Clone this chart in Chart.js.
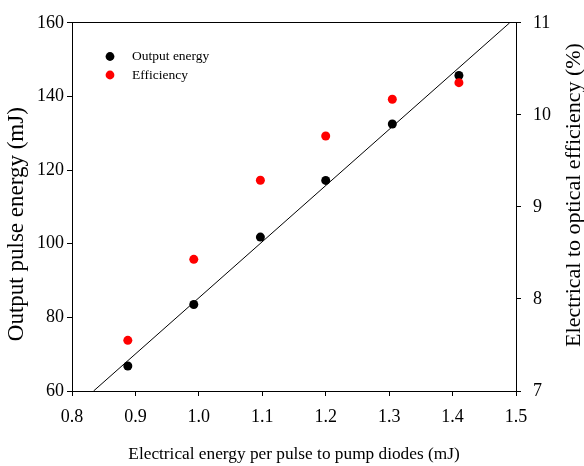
<!DOCTYPE html>
<html>
<head>
<meta charset="utf-8">
<script src="https://cdn.jsdelivr.net/npm/chart.js@4/dist/chart.umd.min.js"></script>
<style>
  html, body { margin: 0; padding: 0; background: #fff; }
  #chart { display: block; }
</style>
</head>
<body>
<canvas id="chart" width="584" height="466"></canvas>
<script>
// Electrical energy per pulse (mJ)
const pumpEnergy = [0.888, 0.992, 1.097, 1.2, 1.305, 1.41];
// Output pulse energy (mJ)
const outputEnergy = [66.8, 83.5, 101.8, 117.2, 132.5, 145.7];
// Electrical to optical efficiency (%)
const efficiency = [7.55, 8.43, 9.29, 9.77, 10.17, 10.35];
// Fitted line endpoints
const fitX = [0.834, 1.49];
const fitY = [60, 160];

const xTicks = [0.8, 0.9, 1.0, 1.1, 1.2, 1.3, 1.4, 1.5];
const leftTicks = [60, 80, 100, 120, 140, 160];
const rightTicks = [7, 8, 9, 10, 11];

const rightTitle = 'Electrical to optical efficiency (%)';

const serif = "'Liberation Serif', 'Times New Roman', serif";

const toPoints = (xs, ys) => xs.map((x, i) => ({ x: x, y: ys[i] }));

// legend inside the plot (top left) + right axis title read bottom-to-top
const extras = {
    id: 'extras',
    afterDatasetsDraw(chart) {
        const ctx = chart.ctx;
        const items = chart.data.datasets
            .filter((d) => d.legendPos !== undefined)
            .sort((a, b) => a.legendPos - b.legendPos);
        ctx.save();
        ctx.font = '13.5px ' + serif;
        ctx.textBaseline = 'middle';
        items.forEach((d, i) => {
            const y = 56.5 + i * 18.5;
            ctx.fillStyle = d.backgroundColor;
            ctx.beginPath();
            ctx.arc(110, y, 4.4, 0, Math.PI * 2);
            ctx.fill();
            ctx.fillStyle = '#000';
            ctx.fillText(d.label, 132, y);
        });
        ctx.restore();

        ctx.save();
        ctx.translate(574, 195);
        ctx.rotate(-Math.PI / 2);
        ctx.font = '22px ' + serif;
        ctx.fillStyle = '#000';
        ctx.textAlign = 'center';
        ctx.textBaseline = 'middle';
        ctx.fillText(rightTitle, 0, 0);
        ctx.restore();
    },
};

const tickFont = { family: serif, size: 18 };
const axisGrid = { drawOnChartArea: false, drawTicks: true, tickLength: 5, color: '#000', lineWidth: 1 };
const axisBorder = { display: true, color: '#000', width: 1 };

new Chart(document.getElementById('chart').getContext('2d'), {
    type: 'scatter',
    data: {
        datasets: [
            {
                label: 'Efficiency',
                data: toPoints(pumpEnergy, efficiency),
                yAxisID: 'y1',
                backgroundColor: '#ff0000',
                borderColor: '#ff0000',
                pointRadius: 4.5,
                pointBorderWidth: 0,
                order: 0,
                legendPos: 1,
            },
            {
                label: 'Output energy',
                data: toPoints(pumpEnergy, outputEnergy),
                yAxisID: 'y',
                backgroundColor: '#000000',
                borderColor: '#000000',
                pointRadius: 4.5,
                pointBorderWidth: 0,
                order: 1,
                legendPos: 0,
            },
            {
                label: 'Fit',
                data: toPoints(fitX, fitY),
                yAxisID: 'y',
                showLine: true,
                borderColor: '#000',
                borderWidth: 1,
                pointRadius: 0,
                order: 2,
            },
        ],
    },
    options: {
        responsive: false,
        animation: false,
        layout: { padding: 0 },
        plugins: {
            legend: { display: false },
            tooltip: { enabled: false },
        },
        scales: {
            x: {
                type: 'linear',
                position: 'bottom',
                min: 0.8,
                max: 1.5,
                afterBuildTicks: (s) => { s.ticks = xTicks.map((v) => ({ value: v })); },
                afterFit: (s) => { s.height = 75; },
                ticks: {
                    color: '#000',
                    font: tickFont,
                    padding: 10,
                    maxRotation: 0,
                    callback: (v) => v.toFixed(1),
                },
                grid: axisGrid,
                border: axisBorder,
                title: {
                    display: true,
                    text: 'Electrical energy per pulse to pump diodes (mJ)',
                    color: '#000',
                    font: { family: serif, size: 17.3, lineHeight: 1.2 },
                    padding: { top: 0, bottom: 1 },
                },
            },
            x2: {
                type: 'linear',
                position: 'top',
                min: 0.8,
                max: 1.5,
                afterFit: (s) => { s.height = 18; },
                ticks: { display: false },
                grid: { drawOnChartArea: false, drawTicks: false },
                border: axisBorder,
            },
            y: {
                type: 'linear',
                position: 'left',
                min: 60,
                max: 160,
                afterBuildTicks: (s) => { s.ticks = leftTicks.map((v) => ({ value: v })); },
                afterFit: (s) => { s.width = 72; },
                ticks: { color: '#000', font: tickFont, padding: 3 },
                grid: axisGrid,
                border: axisBorder,
                title: {
                    display: true,
                    text: 'Output pulse energy (mJ)      ',
                    color: '#000',
                    font: { family: serif, size: 23, lineHeight: 1.0 },
                    padding: { top: 5, bottom: 0 },
                },
            },
            y1: {
                type: 'linear',
                position: 'right',
                min: 7,
                max: 11,
                afterBuildTicks: (s) => { s.ticks = rightTicks.map((v) => ({ value: v })); },
                afterFit: (s) => { s.width = 68; },
                ticks: { color: '#000', font: tickFont, padding: 12 },
                grid: axisGrid,
                border: axisBorder,
            },
        },
    },
    plugins: [extras],
});
</script>
</body>
</html>
